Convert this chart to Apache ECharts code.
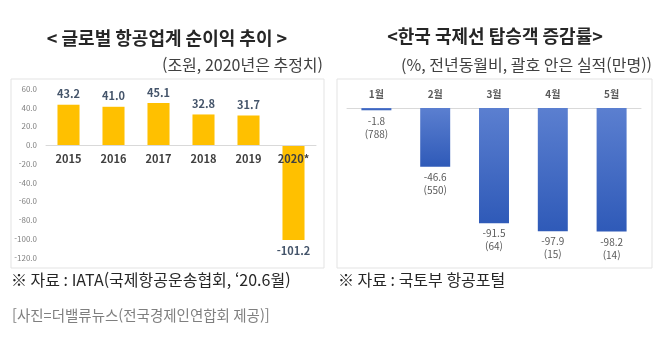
<!DOCTYPE html>
<html lang="ko">
<head>
    <meta charset="UTF-8">
    <title>항공업계 차트</title>
    <script src="https://cdn.jsdelivr.net/npm/echarts@6/dist/echarts.min.js"></script>
    <style>
        html, body { margin: 0; padding: 0; background: #fff; }
        #main { width: 666px; height: 353px; }
    </style>
</head>
<body>
    <div id="main"></div>
    <script>
        // 왼쪽: 글로벌 항공업계 순이익 (조원)
        var years = ['2015', '2016', '2017', '2018', '2019', '2020*'];
        var profit = [43.2, 41.0, 45.1, 32.8, 31.7, -101.2];
        var profitTicks = [-120, -100, -80, -60, -40, -20, 0, 20, 40, 60];

        // 오른쪽: 한국 국제선 탑승객 증감률 (%) / 실적(만명)
        var months = ['1월', '2월', '3월', '4월', '5월'];
        var change = [-1.8, -46.6, -91.5, -97.9, -98.2];
        var passengers = [788, 550, 64, 15, 14];

        var FONT = '"Noto Sans CJK KR", sans-serif';
        var myChart = echarts.init(document.getElementById('main'));

        var leftGrid = { left: 46, top: 89, width: 270, height: 168.5 };
        var yMin = profitTicks[0], yMax = profitTicks[profitTicks.length - 1];
        // 축 라벨을 0 위치로 올리기 위한 오프셋
        var zeroOffset = -(0 - yMin) / (yMax - yMin) * leftGrid.height;

        var option = {
            animation: false,
            backgroundColor: '#fff',
            textStyle: { fontFamily: FONT },
            graphic: [
                // 패널 테두리
                { type: 'rect', z: -1, shape: { x: 11, y: 79, width: 313, height: 189 },
                  style: { fill: '#fff', stroke: '#e3e3e3', lineWidth: 1 } },
                { type: 'rect', z: -1, shape: { x: 337, y: 79, width: 315, height: 189 },
                  style: { fill: '#fff', stroke: '#e3e3e3', lineWidth: 1 } },
                // 제목
                { type: 'text', x: 167, y: 38, style: { text: '< 글로벌 항공업계 순이익 추이 >', font: 'bold 18px ' + FONT, fill: '#262626', align: 'center', verticalAlign: 'middle' } },
                { type: 'text', x: 495, y: 36, style: { text: '<한국 국제선 탑승객 증감률>', font: 'bold 18px ' + FONT, fill: '#262626', align: 'center', verticalAlign: 'middle' } },
                { type: 'text', x: 323, y: 65, style: { text: '(조원, 2020년은 추정치)', font: '16px ' + FONT, fill: '#404040', align: 'right', verticalAlign: 'middle' } },
                { type: 'text', x: 652, y: 65, style: { text: '(%, 전년동월비, 괄호 안은 실적(만명))', font: '16px ' + FONT, fill: '#404040', align: 'right', verticalAlign: 'middle' } },
                // 출처
                { type: 'text', x: 11, y: 280, style: { text: '※ 자료 : IATA(국제항공운송협회, ‘20.6월)', font: '16px ' + FONT, fill: '#262626', verticalAlign: 'middle' } },
                { type: 'text', x: 338, y: 280, style: { text: '※ 자료 : 국토부 항공포털', font: '16px ' + FONT, fill: '#262626', verticalAlign: 'middle' } },
                { type: 'text', x: 12, y: 315, style: { text: '[사진=더밸류뉴스(전국경제인연합회 제공)]', font: '14.5px ' + FONT, fill: '#7f7f7f', verticalAlign: 'middle' } }
            ],
            grid: [
                leftGrid,
                { left: 347, top: 108, width: 294, height: 151 }
            ],
            xAxis: [{
                gridIndex: 0,
                type: 'category',
                data: years,
                offset: zeroOffset,
                z: 5,
                axisTick: { show: false },
                axisLine: { onZero: false, lineStyle: { color: '#d9d9d9', width: 1 } },
                axisLabel: { color: '#404040', fontSize: 11, fontWeight: 'bold', margin: 8 }
            }, {
                gridIndex: 1,
                type: 'category',
                position: 'top',
                data: months,
                axisTick: { show: false },
                axisLine: { lineStyle: { color: '#d9d9d9', width: 1 } },
                axisLabel: { color: '#595959', fontSize: 10, fontWeight: 'bold', margin: 9 }
            }],
            yAxis: [{
                gridIndex: 0,
                type: 'value',
                min: yMin,
                max: yMax,
                interval: 20,
                axisLine: { show: false },
                axisTick: { show: false },
                splitLine: { show: false },
                axisLabel: {
                    color: '#7f7f7f', fontSize: 8, margin: 9,
                    formatter: function (v) { return v.toFixed(1); }
                }
            }, {
                gridIndex: 1,
                type: 'value',
                min: -120,
                max: 0,
                show: false
            }],
            series: [{
                type: 'bar',
                xAxisIndex: 0,
                yAxisIndex: 0,
                barWidth: '49%',
                itemStyle: { color: '#FFC000' },
                data: profit.map(function (v) {
                    return { value: v, label: { position: v < 0 ? 'bottom' : 'top' } };
                }),
                label: {
                    show: true,
                    distance: 5,
                    color: '#44546A',
                    fontSize: 11,
                    fontWeight: 'bold',
                    formatter: function (p) { return p.value.toFixed(1); }
                }
            }, {
                type: 'bar',
                xAxisIndex: 1,
                yAxisIndex: 1,
                barWidth: '51%',
                itemStyle: {
                    color: new echarts.graphic.LinearGradient(0, 0, 0, 1, [
                        { offset: 0, color: '#5B7FD0' },
                        { offset: 1, color: '#2F5AB8' }
                    ])
                },
                data: change,
                label: {
                    show: true,
                    position: 'bottom',
                    distance: 4,
                    color: '#595959',
                    fontSize: 10,
                    lineHeight: 13,
                    formatter: function (p) {
                        return p.value.toFixed(1) + '\n(' + passengers[p.dataIndex] + ')';
                    }
                }
            }]
        };

        myChart.setOption(option);
    </script>
</body>
</html>
